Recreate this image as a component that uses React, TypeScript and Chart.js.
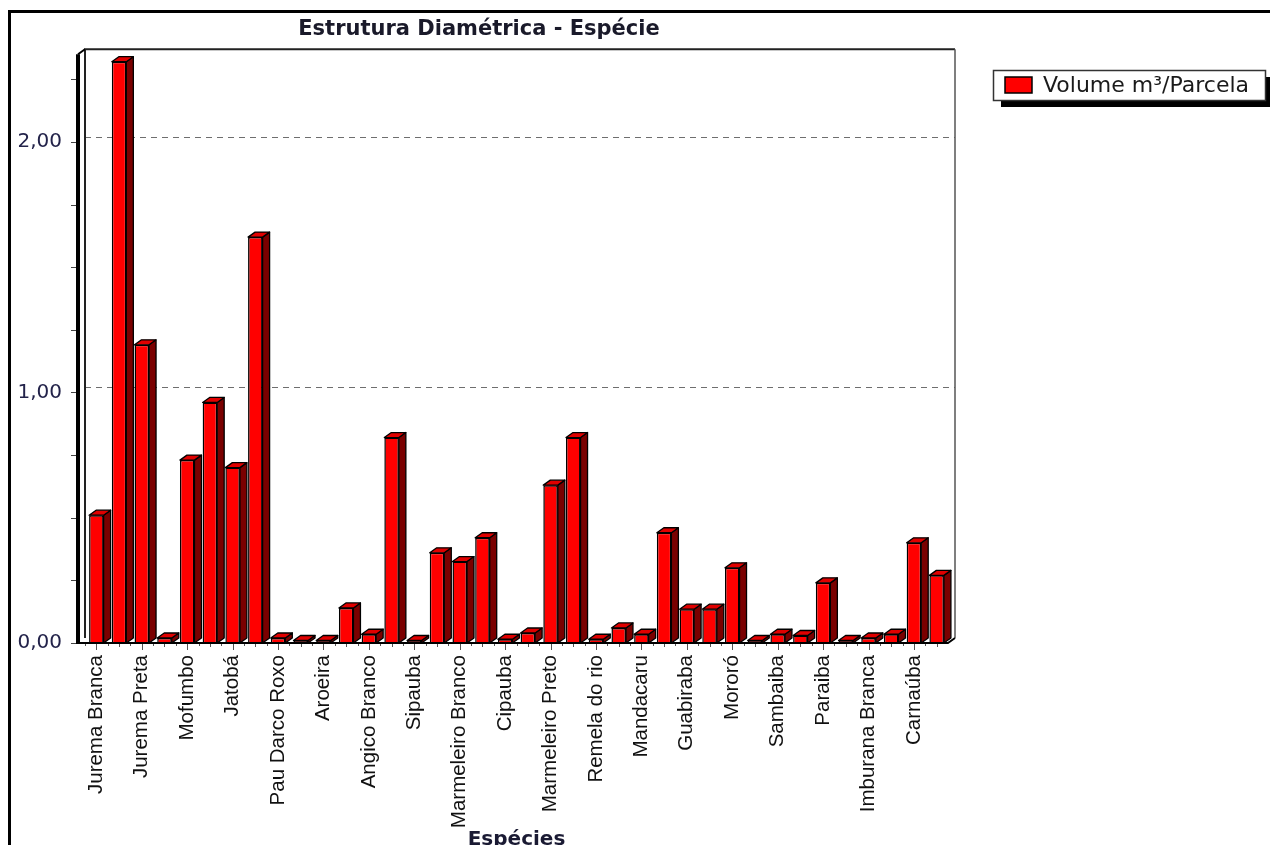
import React, { useEffect, useRef } from 'react';
import { Chart, registerables } from 'chart.js';

Chart.register(...registerables);

const chartTitle = 'Estrutura Diamétrica - Espécie';
const xAxisTitle = 'Espécies';
const seriesLabel = 'Volume m³/Parcela';

// Every other category name is shown on the axis; hidden names are left blank.
const categories: string[] = [
  'Jurema Branca', '', 'Jurema Preta', '', 'Mofumbo', '', 'Jatobá', '',
  'Pau Darco Roxo', '', 'Aroeira', '', 'Angico Branco', '', 'Sipauba', '',
  'Marmeleiro Branco', '', 'Cipauba', '', 'Marmeleiro Preto', '', 'Remela do rio', '',
  'Mandacaru', '', 'Guabiraba', '', 'Mororó', '', 'Sambaiba', '',
  'Paraiba', '', 'Imburana Branca', '', 'Carnaúba', '',
];

const volumes: number[] = [
  0.51, 2.32, 1.19, 0.02, 0.73, 0.96, 0.70, 1.62,
  0.02, 0.01, 0.01, 0.14, 0.035, 0.82, 0.01, 0.36,
  0.325, 0.42, 0.015, 0.04, 0.63, 0.82, 0.015, 0.06,
  0.035, 0.44, 0.135, 0.135, 0.30, 0.01, 0.035, 0.03,
  0.24, 0.01, 0.02, 0.035, 0.40, 0.27,
];

const yMax = 2.35;
const yStep = 0.25;
const gridValues = [1, 2];

const DX = 7;
const DY = 5;

const decoPlugin = {
  id: 'deco3d',
  beforeDraw(chart: any) {
    const { ctx, width, height } = chart;
    ctx.save();
    ctx.fillStyle = '#ffffff';
    ctx.fillRect(0, 0, width, height);
    ctx.fillStyle = '#000000';
    ctx.fillRect(8, 10, width - 8, 3);
    ctx.fillRect(8, 10, 3, height - 10);
    ctx.restore();
  },
  beforeDatasetsDraw(chart: any) {
    const { ctx, chartArea, scales } = chart;
    const { left, right, top, bottom } = chartArea;
    const y = scales.y;
    ctx.save();
    ctx.strokeStyle = '#6e6e6e';
    ctx.lineWidth = 1;
    ctx.setLineDash([6, 5]);
    gridValues.forEach((v) => {
      const py = Math.round(y.getPixelForValue(v) - DY) + 0.5;
      ctx.beginPath();
      ctx.moveTo(left, py);
      ctx.lineTo(right + DX, py);
      ctx.stroke();
    });
    ctx.setLineDash([]);
    ctx.strokeStyle = '#222222';
    ctx.lineWidth = 2;
    ctx.beginPath();
    ctx.moveTo(left, bottom - DY);
    ctx.lineTo(left, top - DY);
    ctx.lineTo(right + DX, top - DY);
    ctx.stroke();
    ctx.strokeStyle = '#555555';
    ctx.lineWidth = 1.5;
    ctx.beginPath();
    ctx.moveTo(right + DX, top - DY);
    ctx.lineTo(right + DX, bottom - DY);
    ctx.stroke();
    ctx.restore();
  },
  afterDatasetsDraw(chart: any) {
    const { ctx, chartArea, scales } = chart;
    const { left, right, top, bottom } = chartArea;
    const y = scales.y;
    const x = scales.x;
    ctx.save();
    ctx.strokeStyle = '#000000';
    ctx.lineWidth = 1.3;
    ctx.lineJoin = 'round';
    const meta = chart.getDatasetMeta(0);
    meta.data.forEach((bar: any) => {
      const p = bar.getProps(['x', 'y', 'base', 'width'], true);
      const l = p.x - p.width / 2;
      const r = p.x + p.width / 2;
      ctx.beginPath();
      ctx.moveTo(r, p.y);
      ctx.lineTo(r + DX, p.y - DY);
      ctx.lineTo(r + DX, p.base - DY);
      ctx.lineTo(r, p.base);
      ctx.closePath();
      ctx.fillStyle = '#7a0000';
      ctx.fill();
      ctx.stroke();
      ctx.beginPath();
      ctx.moveTo(l, p.y);
      ctx.lineTo(l + DX, p.y - DY);
      ctx.lineTo(r + DX, p.y - DY);
      ctx.lineTo(r, p.y);
      ctx.closePath();
      ctx.fillStyle = '#e00000';
      ctx.fill();
      ctx.stroke();
    });
    const ax = left - DX;
    ctx.strokeStyle = '#000000';
    ctx.lineWidth = 4;
    ctx.beginPath();
    ctx.moveTo(ax, bottom + 1);
    ctx.lineTo(ax, top);
    ctx.stroke();
    ctx.lineWidth = 2;
    ctx.beginPath();
    ctx.moveTo(ax, top);
    ctx.lineTo(left, top - DY);
    ctx.stroke();
    ctx.lineWidth = 1;
    ctx.strokeStyle = '#444444';
    y.ticks.forEach((t: any) => {
      const py = Math.round(y.getPixelForValue(t.value)) + 0.5;
      ctx.beginPath();
      ctx.moveTo(ax - 7, py);
      ctx.lineTo(ax - 2, py);
      ctx.stroke();
    });
    ctx.strokeStyle = '#000000';
    ctx.lineWidth = 2;
    ctx.beginPath();
    ctx.moveTo(ax, bottom);
    ctx.lineTo(right, bottom);
    ctx.lineTo(right + DX, bottom - DY);
    ctx.stroke();
    ctx.lineWidth = 1;
    ctx.strokeStyle = '#555555';
    const n = categories.length;
    const cw = (right - left) / n;
    for (let i = 0; i < n; i++) {
      const px = Math.round(x.getPixelForValue(i)) + 0.5;
      ctx.beginPath();
      ctx.moveTo(px, bottom + 1);
      ctx.lineTo(px, bottom + (i % 2 === 0 ? 7 : 4));
      ctx.stroke();
      const bx = Math.round(left + cw * i) + 0.5;
      ctx.beginPath();
      ctx.moveTo(bx, bottom + 1);
      ctx.lineTo(bx, bottom + 3);
      ctx.stroke();
    }
    ctx.restore();
  },
  afterDraw(chart: any) {
    const { ctx } = chart;
    const bx = 993, by = 70, bw = 272, bh = 30;
    ctx.save();
    ctx.fillStyle = '#000000';
    ctx.fillRect(bx + 8, by + 7, bw, bh);
    ctx.fillStyle = '#ffffff';
    ctx.fillRect(bx, by, bw, bh);
    ctx.strokeStyle = '#333333';
    ctx.lineWidth = 1.5;
    ctx.strokeRect(bx + 0.5, by + 0.5, bw, bh);
    ctx.fillStyle = '#ff0000';
    ctx.fillRect(1005, 77, 27, 16);
    ctx.strokeStyle = '#000000';
    ctx.lineWidth = 1.5;
    ctx.strokeRect(1005, 77, 27, 16);
    ctx.fillStyle = '#1a1a1a';
    ctx.font = '22px "DejaVu Sans", sans-serif';
    ctx.textBaseline = 'middle';
    ctx.textAlign = 'left';
    ctx.fillText(chart.data.datasets[0].label, 1043, 86);
    ctx.restore();
  },
};

export default function App() {
  const canvasRef = useRef<HTMLCanvasElement | null>(null);

  useEffect(() => {
    document.body.style.margin = '0';
    const canvas = canvasRef.current;
    if (!canvas) return;
    const chart = new Chart(canvas, {
      type: 'bar',
      data: {
        labels: categories,
        datasets: [
          {
            label: seriesLabel,
            data: volumes,
            backgroundColor: '#ff0000',
            borderColor: '#000000',
            borderWidth: 1.5,
            barPercentage: 0.64,
            categoryPercentage: 1,
          },
        ],
      },
      options: {
        responsive: false,
        animation: false,
        layout: { padding: { left: 10, right: 322, top: 0, bottom: 0 } },
        plugins: {
          legend: { display: false },
          tooltip: { enabled: false },
          title: {
            display: true,
            text: chartTitle,
            color: '#1a1a2a',
            font: { family: '"DejaVu Sans", sans-serif', size: 21, weight: 'bold' },
            padding: { top: 17, bottom: 12 },
          },
        },
        scales: {
          x: {
            type: 'category',
            offset: true,
            grid: { display: false, drawTicks: false },
            border: { display: false },
            ticks: {
              autoSkip: false,
              maxRotation: 90,
              minRotation: 90,
              padding: 12,
              color: '#111111',
              font: { family: '"Liberation Sans", Arial, sans-serif', size: 20.5 },
            },
            title: {
              display: true,
              text: xAxisTitle,
              color: '#1a1a33',
              font: { family: '"DejaVu Sans", sans-serif', size: 20, weight: 'bold' },
              padding: { top: 0, bottom: -7 },
            },
            afterFit: (scale: any) => {
              scale.height = 202;
            },
          },
          y: {
            min: 0,
            max: yMax,
            grid: { display: false, drawTicks: false },
            border: { display: false },
            ticks: {
              stepSize: yStep,
              padding: 23,
              color: '#23234a',
              font: { family: '"DejaVu Sans", sans-serif', size: 20 },
              callback: (v: any) => {
                const n = Number(v);
                return Math.abs(n - Math.round(n)) < 1e-6 ? n.toFixed(2).replace('.', ',') : '';
              },
            },
            afterBuildTicks: (scale: any) => {
              scale.ticks = scale.ticks.filter(
                (t: any) => Math.abs(t.value / yStep - Math.round(t.value / yStep)) < 1e-6
              );
            },
            afterFit: (scale: any) => {
              scale.width = 75;
            },
          },
        },
      },
      plugins: [decoPlugin],
    });
    return () => chart.destroy();
  }, []);

  return (
    <div style={{ position: 'relative', width: 1270, height: 845 }}>
      <canvas ref={canvasRef} width={1270} height={845} />
    </div>
  );
}
